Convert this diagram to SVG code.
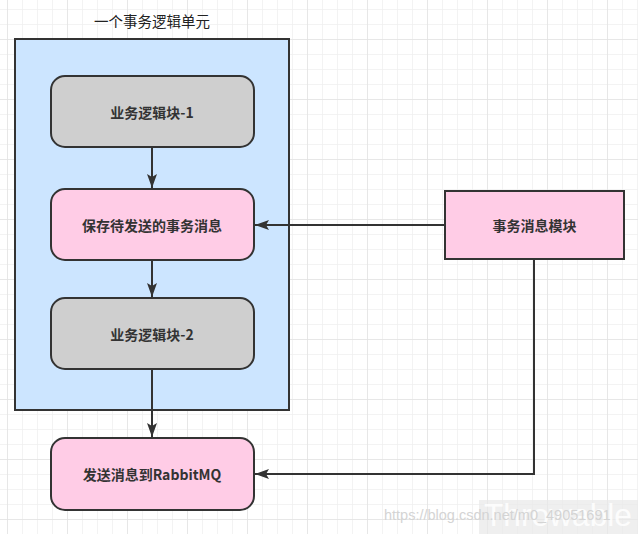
<svg xmlns="http://www.w3.org/2000/svg" width="638" height="534" viewBox="0 0 638 534">
<defs>
<pattern id="minor" x="7" y="9" width="15" height="15" patternUnits="userSpaceOnUse">
<path d="M0 0H15M0 0V15" fill="none" stroke="#efefef" stroke-width="1.5"/>
</pattern>
<pattern id="major" x="7" y="39" width="60" height="60" patternUnits="userSpaceOnUse">
<path d="M0 0H60M0 0V60" fill="none" stroke="#e3e3e3" stroke-width="1.5"/>
</pattern>
<marker id="arr" viewBox="0 0 14 10" refX="14" refY="5" markerWidth="14" markerHeight="10" markerUnits="userSpaceOnUse" orient="auto">
<path d="M0 0L14 5L0 10L3 5Z" fill="#333"/>
</marker>
<style>
.box{stroke:#333;stroke-width:2}
.gray{fill:#cfcfcf}
.pink{fill:#ffcce6}
.lbl{font-family:"Noto Sans CJK SC","Liberation Sans",sans-serif;font-size:14px;font-weight:bold;fill:#333;text-anchor:middle;dominant-baseline:central}
.edge{fill:none;stroke:#333;stroke-width:2;marker-end:url(#arr)}
</style>
</defs>
<rect width="638" height="534" fill="#fff"/>
<rect width="638" height="534" fill="url(#minor)"/>
<rect width="638" height="534" fill="url(#major)"/>

<g id="container">
<rect x="15" y="39" width="274" height="371" fill="#cce5ff" class="box"/>
<text x="152" y="20" font-family="Noto Sans CJK SC,Liberation Sans,sans-serif" font-size="14.5" fill="#222" text-anchor="middle" dominant-baseline="central">一个事务逻辑单元</text>
</g>

<g id="connectors">
<path class="edge" d="M152 147V188"/>
<path class="edge" d="M152 261V297"/>
<path class="edge" d="M152 369V437"/>
<path class="edge" d="M445 225H255"/>
<path class="edge" d="M534 259V474H255"/>
</g>

<g id="block1">
<rect x="51" y="76" width="203" height="71" rx="14" class="box gray"/>
<text x="152" y="111.5" class="lbl">业务逻辑块-1</text>
</g>
<g id="save">
<rect x="51" y="189" width="203" height="71" rx="14" class="box pink"/>
<text x="152" y="225" class="lbl">保存待发送的事务消息</text>
</g>
<g id="block2">
<rect x="51" y="298" width="203" height="71" rx="14" class="box gray"/>
<text x="152" y="334" class="lbl">业务逻辑块-2</text>
</g>
<g id="send">
<rect x="51" y="438" width="203" height="72" rx="14" class="box pink"/>
<text x="152" y="474" class="lbl">发送消息到RabbitMQ</text>
</g>
<g id="msgmodule">
<rect x="445" y="191" width="179" height="68" class="box pink"/>
<text x="534.5" y="225" class="lbl">事务消息模块</text>
</g>

<g id="watermark">
<rect x="479" y="500" width="159" height="34" fill="#e8e8e8" fill-opacity="0.7"/>
<text x="484" y="526" font-family="Liberation Sans,sans-serif" font-size="32" textLength="148" lengthAdjust="spacingAndGlyphs" fill="#fff" fill-opacity="0.85">Throwable</text>
<text x="384" y="520" font-family="Liberation Sans,sans-serif" font-size="14.5" fill="#d4d4d4">https://blog.csdn.net/m0_49051691</text>
</g>
</svg>
